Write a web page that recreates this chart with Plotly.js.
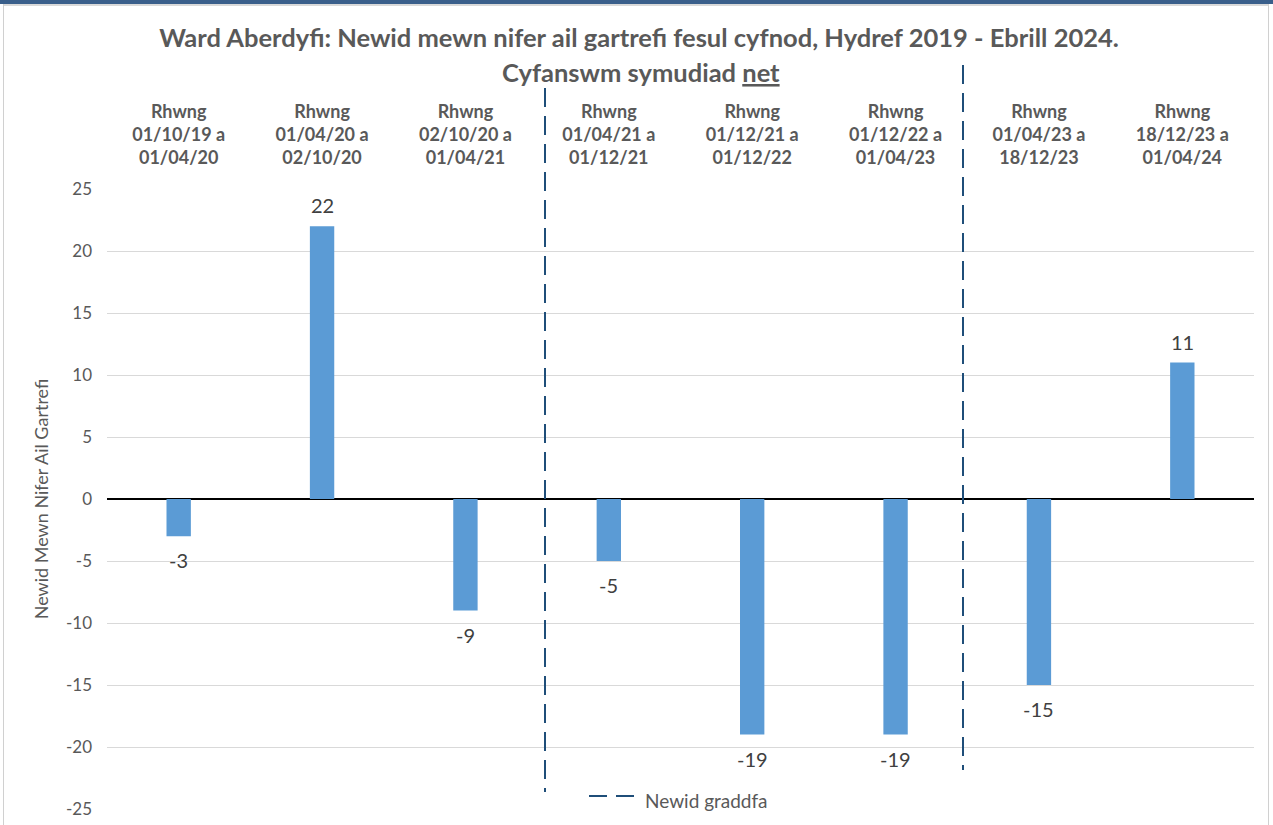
<!DOCTYPE html>
<html>
<head>
<meta charset="utf-8">
<script src="https://cdn.plot.ly/plotly-3.0.1.min.js"></script>
<style>
html,body{margin:0;padding:0;background:#fff;width:1273px;height:825px;overflow:hidden;}
#topbar{position:absolute;left:0;top:0;width:1273px;height:4px;background:#3a5f8b;z-index:2;}
#topline{position:absolute;left:3px;top:4px;width:1266px;height:2px;background:#d9d9d9;z-index:2;}
#leftline{position:absolute;left:3px;top:4px;width:1px;height:821px;background:#d0d0d0;z-index:2;}
#rightline{position:absolute;left:1268px;top:4px;width:1px;height:821px;background:#d0d0d0;z-index:2;}
#chart{position:absolute;left:0;top:0;width:1273px;height:825px;}
</style>
</head>
<body>
<div id="topbar"></div><div id="topline"></div><div id="leftline"></div><div id="rightline"></div>
<div id="chart"></div>
<script>
const categories = [
  "Rhwng<br>01/10/19 a<br>01/04/20",
  "Rhwng<br>01/04/20 a<br>02/10/20",
  "Rhwng<br>02/10/20 a<br>01/04/21",
  "Rhwng<br>01/04/21 a<br>01/12/21",
  "Rhwng<br>01/12/21 a<br>01/12/22",
  "Rhwng<br>01/12/22 a<br>01/04/23",
  "Rhwng<br>01/04/23 a<br>18/12/23",
  "Rhwng<br>18/12/23 a<br>01/04/24"
];
const values = [-3, 22, -9, -5, -19, -19, -15, 11];
const yTicks = [-25, -20, -15, -10, -5, 0, 5, 10, 15, 20, 25];
const titleLine1 = "Ward Aberdyfi: Newid mewn nifer ail gartrefi fesul cyfnod, Hydref 2019 - Ebrill 2024.";
const titleLine2 = "Cyfanswm symudiad <u>net</u>";
const yTitle = "Newid Mewn Nifer Ail Gartrefi";
const legendName = "Newid graddfa";

const FONT = "Lato, 'Open Sans', sans-serif";
const GREY = "#595959";
const DASHCOL = "#1f4e79";

const traces = [
  {
    type: "bar",
    x: categories,
    y: values,
    marker: {color: "#5b9bd5"},
    showlegend: false,
    hoverinfo: "x+y"
  }
];

const labelAnnotations = categories.map((c, i) => ({
  x: c, y: values[i], xref: "x", yref: "y",
  text: String(values[i]),
  showarrow: false,
  xanchor: "center", yanchor: "middle",
  yshift: values[i] >= 0 ? 21 : -24,
  font: {family: FONT, size: 20, color: "#404040"}
}));

// paper-coordinate helpers (plot area: x 107..1254, y 189..809)
const px = v => (v - 107) / 1147;
const py = v => (809 - v) / 620;

const layout = {
  width: 1273,
  height: 825,
  paper_bgcolor: "rgba(0,0,0,0)",
  plot_bgcolor: "rgba(0,0,0,0)",
  margin: {l: 107, r: 19, t: 189, b: 16},
  bargap: 0.83,
  showlegend: false,
  font: {family: FONT, color: GREY},
  title: {
    text: "<b>" + titleLine1 + "</b>",
    font: {family: FONT, size: 25.5, color: GREY},
    x: 639 / 1273, xanchor: "center", xref: "container",
    y: 1 - 38/825, yanchor: "middle", yref: "container",
    automargin: false
  },
  annotations: [
    {
      text: "<b>" + titleLine2 + "</b>",
      xref: "paper", yref: "paper",
      x: px(641), y: py(72),
      xanchor: "center", yanchor: "middle",
      showarrow: false,
      font: {family: FONT, size: 25.5, color: GREY}
    },
    {
      text: legendName,
      xref: "paper", yref: "paper",
      x: px(643), y: py(800),
      xanchor: "left", yanchor: "middle",
      showarrow: false,
      font: {family: FONT, size: 19, color: GREY}
    }
  ].concat(labelAnnotations),
  xaxis: {
    type: "category",
    side: "top",
    automargin: false,
    showgrid: false,
    zeroline: false,
    showline: false,
    ticks: "",
    tickfont: {family: FONT, size: 18, color: GREY},
    tickprefix: "<b>",
    ticksuffix: "</b>",
    ticklabelstandoff: 20,
    tickangle: 0,
    range: [-0.5, 7.5],
    fixedrange: true
  },
  yaxis: {
    range: [-25, 25],
    automargin: false,
    tickvals: yTicks,
    ticktext: yTicks.map(String),
    tickfont: {family: FONT, size: 17, color: GREY},
    ticks: "",
    ticklabelstandoff: 14,
    showgrid: true,
    gridcolor: "#d9d9d9",
    gridwidth: 1,
    zeroline: true,
    zerolinecolor: "#000000",
    zerolinewidth: 1.3,
    showline: false,
    title: {text: yTitle, font: {family: FONT, size: 18, color: GREY}, standoff: 12},
    fixedrange: true
  },
  shapes: [
    {
      type: "line", xref: "paper", yref: "paper",
      x0: px(545), x1: px(545),
      y0: py(88), y1: py(792),
      line: {color: DASHCOL, width: 2, dash: "19px,9px"}
    },
    {
      type: "line", xref: "paper", yref: "paper",
      x0: px(963), x1: px(963),
      y0: py(65), y1: py(770),
      line: {color: DASHCOL, width: 2, dash: "19px,9px"}
    },
    {
      type: "line", xref: "paper", yref: "paper",
      x0: px(589), x1: px(634),
      y0: py(796), y1: py(796),
      line: {color: DASHCOL, width: 2, dash: "18px,9px"}
    }
  ]
};

Plotly.newPlot("chart", traces, layout, {displayModeBar: false, staticPlot: true});
</script>
</body>
</html>
